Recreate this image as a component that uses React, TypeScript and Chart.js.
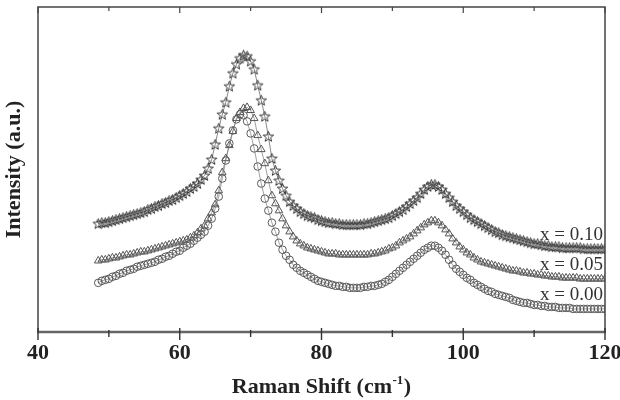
import React, { useEffect, useRef } from "react";
import { Chart, registerables } from "chart.js";

Chart.register(...registerables);

// Raman shift (cm^-1)
const ramanShift = [
  48.5, 49, 49.5, 50, 50.5, 51, 51.5, 52, 52.5, 53,
  53.5, 54, 54.5, 55, 55.5, 56, 56.5, 57, 57.5, 58,
  58.5, 59, 59.5, 60, 60.5, 61, 61.5, 62, 62.5, 63,
  63.5, 64, 64.5, 65, 65.5, 66, 66.5, 67, 67.5, 68,
  68.5, 69, 69.5, 70, 70.5, 71, 71.5, 72, 72.5, 73,
  73.5, 74, 74.5, 75, 75.5, 76, 76.5, 77, 77.5, 78,
  78.5, 79, 79.5, 80, 80.5, 81, 81.5, 82, 82.5, 83,
  83.5, 84, 84.5, 85, 85.5, 86, 86.5, 87, 87.5, 88,
  88.5, 89, 89.5, 90, 90.5, 91, 91.5, 92, 92.5, 93,
  93.5, 94, 94.5, 95, 95.5, 96, 96.5, 97, 97.5, 98,
  98.5, 99, 99.5, 100, 100.5, 101, 101.5, 102, 102.5, 103,
  103.5, 104, 104.5, 105, 105.5, 106, 106.5, 107, 107.5, 108,
  108.5, 109, 109.5, 110, 110.5, 111, 111.5, 112, 112.5, 113,
  113.5, 114, 114.5, 115, 115.5, 116, 116.5, 117, 117.5, 118,
  118.5, 119, 119.5, 120,
];

// x = 0.00 (circles)
const intensityX000 = [
  49, 51, 52, 53, 55, 56, 58, 59, 61, 62,
  63, 65, 66, 67, 68, 69, 70, 72, 73, 75,
  76, 78, 80, 81, 84, 86, 88, 91, 94, 97,
  100, 106, 113, 123, 135, 153, 171, 188, 201, 212,
  217, 216, 210, 198, 183, 165, 148, 133, 121, 109,
  100, 89, 82, 76, 72, 67, 64, 61, 59, 57,
  55, 53, 51, 50, 49, 48, 47, 46, 46, 45,
  45, 44, 44, 44, 44, 45, 45, 46, 46, 47,
  48, 50, 52, 55, 58, 61, 64, 67, 70, 73,
  76, 79, 82, 84, 86, 86, 84, 81, 77, 72,
  67, 63, 60, 57, 54, 52, 49, 47, 45, 43,
  41, 40, 38, 37, 36, 35, 34, 32, 31, 30,
  29, 29, 28, 27, 27, 26, 26, 25, 25, 25,
  24, 24, 24, 24, 23, 23, 23, 23, 23, 23,
  23, 23, 23, 23,
];

// x = 0.05 (triangles)
const intensityX005 = [
  71, 72, 72, 73, 74, 74, 75, 76, 77, 77,
  78, 79, 80, 80, 81, 82, 83, 84, 85, 86,
  87, 88, 89, 90, 91, 92, 94, 96, 99, 103,
  106, 113, 119, 127, 141, 159, 173, 186, 200, 213,
  219, 223, 224, 221, 213, 196, 182, 168, 151, 136,
  128, 121, 113, 106, 100, 95, 91, 88, 86, 84,
  83, 82, 81, 80, 79, 78, 78, 78, 77, 77,
  77, 77, 77, 77, 77, 77, 77, 78, 78, 79,
  80, 81, 83, 84, 86, 89, 91, 93, 95, 98,
  101, 104, 107, 109, 111, 111, 109, 106, 102, 98,
  93, 89, 85, 82, 79, 77, 74, 72, 70, 69,
  68, 67, 66, 65, 64, 63, 62, 61, 61, 60,
  59, 59, 58, 58, 57, 57, 56, 56, 55, 55,
  55, 54, 54, 54, 54, 54, 53, 53, 53, 53,
  53, 53, 53, 53,
];

// x = 0.10 (stars)
const intensityX010 = [
  108, 109, 109, 110, 111, 112, 113, 114, 115, 116,
  117, 118, 119, 120, 122, 123, 125, 126, 128, 129,
  131, 132, 134, 136, 138, 140, 143, 145, 148, 152,
  156, 163, 172, 187, 203, 217, 229, 245, 258, 267,
  273, 276, 275, 270, 262, 246, 231, 215, 195, 173,
  161, 151, 143, 136, 130, 126, 123, 120, 118, 116,
  115, 114, 112, 111, 110, 109, 109, 108, 108, 107,
  107, 107, 107, 107, 107, 108, 108, 109, 110, 111,
  112, 113, 114, 116, 118, 120, 122, 125, 128, 131,
  134, 138, 142, 145, 147, 147, 145, 142, 138, 134,
  130, 126, 123, 120, 117, 114, 112, 110, 108, 106,
  104, 102, 100, 99, 97, 96, 95, 94, 93, 92,
  91, 90, 89, 88, 88, 87, 86, 86, 85, 85,
  85, 84, 84, 84, 84, 84, 84, 83, 83, 83,
  83, 83, 83, 83,
];

const seriesLabels = ["x = 0.00", "x = 0.05", "x = 0.10"];
const majorTicks = [40, 60, 80, 100, 120];
const minorTicks = [50, 70, 90, 110];
const xTitleMain = "Raman Shift (cm";
const xTitleSup = "-1";
const xTitleEnd = ")";

const SERIF = '"Liberation Serif", "Times New Roman", serif';

function makeStar(color: string): HTMLCanvasElement {
  const c = document.createElement("canvas");
  c.width = 13;
  c.height = 13;
  const g = c.getContext("2d")!;
  g.strokeStyle = color;
  g.lineWidth = 1;
  g.beginPath();
  for (let k = 0; k < 10; k++) {
    const r = k % 2 === 0 ? 5.5 : 2.3;
    const a = -Math.PI / 2 + (k * Math.PI) / 5;
    const px = 6.5 + r * Math.cos(a);
    const py = 6.9 + r * Math.sin(a);
    if (k === 0) g.moveTo(px, py);
    else g.lineTo(px, py);
  }
  g.closePath();
  g.stroke();
  return c;
}

export default function App() {
  const ref = useRef<HTMLCanvasElement>(null);

  useEffect(() => {
    document.body.style.margin = "0";
    const star = makeStar("#3a3a3a");
    const toPts = (ys: number[]) => ramanShift.map((x, i) => ({ x, y: ys[i] }));
    const series = [intensityX000, intensityX005, intensityX010];

    const frame = {
      id: "frame",
      afterDatasetsDraw(chart: any) {
        const { ctx, chartArea: a, scales } = chart;
        const xs = scales.x;
        const ys = scales.y;
        ctx.save();
        // series labels
        ctx.font = `19px ${SERIF}`;
        ctx.fillStyle = "#333";
        ctx.textAlign = "right";
        ctx.textBaseline = "middle";
        series.forEach((s, i) => {
          const yp = ys.getPixelForValue(s[s.length - 1]) - 14;
          ctx.fillText(seriesLabels[i], a.right - 2, yp);
        });
        // frame
        ctx.strokeStyle = "#444";
        ctx.lineWidth = 1.5;
        ctx.beginPath();
        ctx.moveTo(a.left, a.bottom);
        ctx.lineTo(a.left, a.top);
        ctx.lineTo(a.right, a.top);
        ctx.lineTo(a.right, a.bottom);
        ctx.stroke();
        // top ticks
        ctx.lineWidth = 1.2;
        ctx.beginPath();
        majorTicks.forEach((v) => {
          const p = xs.getPixelForValue(v);
          ctx.moveTo(p, a.top);
          ctx.lineTo(p, a.top + 6);
        });
        minorTicks.forEach((v) => {
          const p = xs.getPixelForValue(v);
          ctx.moveTo(p, a.top);
          ctx.lineTo(p, a.top + 4);
        });
        ctx.stroke();
        // bottom axis
        ctx.strokeStyle = "#666";
        ctx.lineWidth = 2.6;
        ctx.beginPath();
        ctx.moveTo(a.left - 1, a.bottom);
        ctx.lineTo(a.right + 1, a.bottom);
        ctx.stroke();
        ctx.strokeStyle = "#333";
        ctx.lineWidth = 1.4;
        ctx.beginPath();
        majorTicks.forEach((v) => {
          const p = xs.getPixelForValue(v);
          ctx.moveTo(p, a.bottom - 4);
          ctx.lineTo(p, a.bottom + 8);
        });
        minorTicks.forEach((v) => {
          const p = xs.getPixelForValue(v);
          ctx.moveTo(p, a.bottom - 2);
          ctx.lineTo(p, a.bottom + 5);
        });
        ctx.stroke();
        // x-axis title with superscript
        const mainFont = `bold 22px ${SERIF}`;
        const supFont = `bold 13px ${SERIF}`;
        ctx.fillStyle = "#222";
        ctx.textAlign = "left";
        ctx.textBaseline = "alphabetic";
        ctx.font = mainFont;
        const w1 = ctx.measureText(xTitleMain).width;
        const w3 = ctx.measureText(xTitleEnd).width;
        ctx.font = supFont;
        const w2 = ctx.measureText(xTitleSup).width;
        const total = w1 + w2 + w3 + 1;
        const cx = (a.left + a.right) / 2;
        let tx = cx - total / 2;
        const base = 393;
        ctx.font = mainFont;
        ctx.fillText(xTitleMain, tx, base);
        tx += w1 + 0.5;
        ctx.font = supFont;
        ctx.fillText(xTitleSup, tx, base - 9);
        tx += w2 + 0.5;
        ctx.font = mainFont;
        ctx.fillText(xTitleEnd, tx, base);
        ctx.restore();
      },
    };

    const chart = new Chart(ref.current!, {
      type: "line",
      data: {
        datasets: [
          {
            label: seriesLabels[0],
            data: toPts(intensityX000),
            pointStyle: "circle",
            pointRadius: 3.8,
            pointBorderColor: "#5a5a5a",
            pointBackgroundColor: "rgba(255,255,255,0)",
            pointBorderWidth: 1,
            borderColor: "#777",
            borderWidth: 0.7,
          },
          {
            label: seriesLabels[1],
            data: toPts(intensityX005),
            pointStyle: "triangle",
            pointRadius: 4.4,
            pointBorderColor: "#555",
            pointBackgroundColor: "rgba(255,255,255,0)",
            pointBorderWidth: 1,
            borderColor: "#777",
            borderWidth: 0.7,
          },
          {
            label: seriesLabels[2],
            data: toPts(intensityX010),
            pointStyle: star as any,
            pointRadius: 5,
            pointBorderColor: "#3a3a3a",
            pointBackgroundColor: "rgba(255,255,255,0)",
            pointBorderWidth: 1,
            borderColor: "#555",
            borderWidth: 0.7,
          },
        ],
      },
      options: {
        responsive: false,
        animation: false,
        events: [],
        layout: { padding: { top: 7, right: 15, left: 0, bottom: 0 } },
        plugins: { legend: { display: false }, tooltip: { enabled: false } },
        scales: {
          x: {
            type: "linear",
            min: 40,
            max: 120,
            afterBuildTicks: (s: any) => {
              s.ticks = majorTicks.map((v) => ({ value: v }));
            },
            grid: { display: false, drawTicks: false },
            border: { display: false },
            ticks: {
              padding: 8,
              color: "#222",
              maxRotation: 0,
              autoSkip: false,
              font: { family: SERIF, size: 22, weight: "bold" },
            },
            title: { display: false },
            afterFit: (s: any) => {
              s.height = 68;
              s.paddingLeft = 0;
              s.paddingRight = 0;
            },
          },
          y: {
            min: 0,
            max: 324,
            ticks: { display: false },
            grid: { display: false, drawTicks: false },
            border: { display: false },
            title: {
              display: true,
              text: "Intensity (a.u.)",
              color: "#222",
              font: { family: SERIF, size: 22, weight: "bold" },
              padding: { top: 1, bottom: 0 },
            },
            afterFit: (s: any) => {
              s.width = 38;
            },
          },
        },
      } as any,
      plugins: [frame],
    });
    return () => chart.destroy();
  }, []);

  return (
    <div style={{ width: 620, height: 400 }}>
      <canvas ref={ref} width={620} height={400} style={{ display: "block" }} />
    </div>
  );
}
